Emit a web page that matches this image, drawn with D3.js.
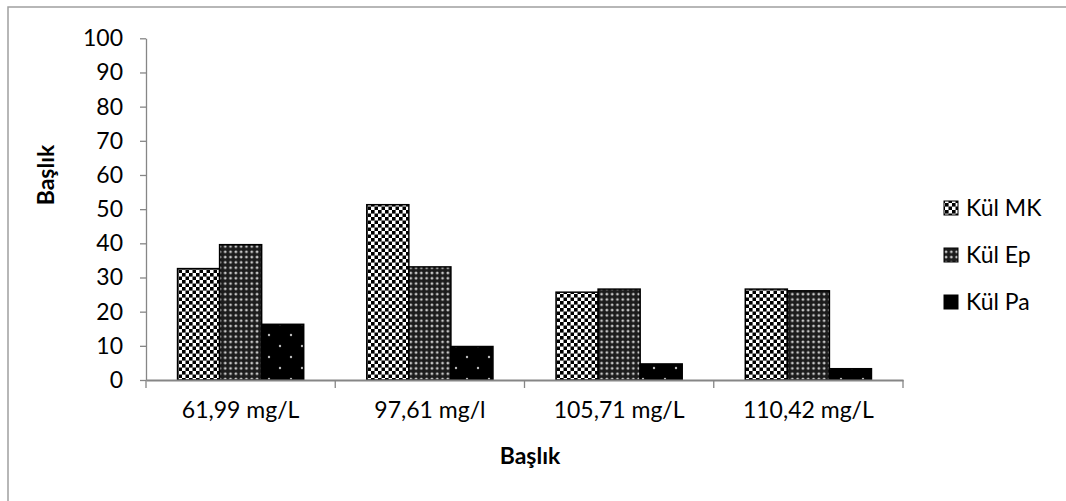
<!DOCTYPE html>
<html>
<head>
<meta charset="utf-8">
<script src="https://cdn.jsdelivr.net/npm/d3@7"></script>
<style>
  html, body { margin: 0; padding: 0; background: #fff; }
  svg { display: block; }
  text { font-family: Lato, "Open Sans", sans-serif; fill: #000; }
</style>
</head>
<body>
<svg id="chart" width="1066" height="501"></svg>
<script>
// Category labels (x axis)
const categories = ["61,99 mg/L", "97,61 mg/l", "105,71 mg/L", "110,42 mg/L"];
// Series names (legend)
const seriesNames = ["Kül MK", "Kül Ep", "Kül Pa"];
// Series values, one per category
const kulMK = [32.6, 51.3, 25.7, 26.6];
const kulEp = [39.6, 33.1, 26.6, 26.1];
const kulPa = [16.3, 9.8, 4.7, 3.3];
// Y axis tick values
const yTicks = [0, 10, 20, 30, 40, 50, 60, 70, 80, 90, 100];
const axisTitle = "Başlık";

const seriesValues = [kulMK, kulEp, kulPa];
const patternIds = ["pat-mk", "pat-ep", "pat-pa"];

const svg = d3.select("#chart");
const defs = svg.append("defs");

// Checkerboard fill
const pMK = defs.append("pattern").attr("id", "pat-mk")
  .attr("patternUnits", "userSpaceOnUse").attr("width", 7).attr("height", 7);
pMK.append("rect").attr("width", 7).attr("height", 7).attr("fill", "#fff");
pMK.append("rect").attr("x", 0).attr("y", 0).attr("width", 3.6).attr("height", 3.6).attr("fill", "#000");
pMK.append("rect").attr("x", 3.5).attr("y", 3.5).attr("width", 3.6).attr("height", 3.6).attr("fill", "#000");

// Dense dot grid on dark ground
const pEP = defs.append("pattern").attr("id", "pat-ep")
  .attr("patternUnits", "userSpaceOnUse").attr("width", 5.3).attr("height", 5.3);
pEP.append("rect").attr("width", 5.3).attr("height", 5.3).attr("fill", "#1c1c1c");
pEP.append("circle").attr("cx", 2.65).attr("cy", 2.65).attr("r", 1.4).attr("fill", "#c8c8c8");

// Sparse dots on black
const pPA = defs.append("pattern").attr("id", "pat-pa")
  .attr("patternUnits", "userSpaceOnUse").attr("width", 22).attr("height", 22);
pPA.append("rect").attr("width", 22).attr("height", 22).attr("fill", "#000");
pPA.append("circle").attr("cx", 5).attr("cy", 5).attr("r", 1.2).attr("fill", "#bbb");
pPA.append("circle").attr("cx", 16).attr("cy", 16).attr("r", 1.2).attr("fill", "#bbb");

// Chart frame
svg.append("rect")
  .attr("x", 8).attr("y", 7).attr("width", 1100).attr("height", 600)
  .attr("fill", "none").attr("stroke", "#a0a0a0").attr("stroke-width", 1.5);

const plot = { left: 146, right: 903, top: 38.3, bottom: 380 };

const x = d3.scaleBand().domain(categories).range([plot.left, plot.right]).padding(0);
const bw = x.bandwidth();
const xs = d3.scaleBand().domain(seriesNames).range([bw / 6, bw * 5 / 6]).padding(0);
const y = d3.scaleLinear().domain([0, 100]).range([plot.bottom, plot.top]);

// Bars
seriesNames.forEach((name, si) => {
  svg.append("g").selectAll("rect")
    .data(seriesValues[si])
    .join("rect")
    .attr("x", (d, i) => x(categories[i]) + xs(name))
    .attr("y", d => y(d))
    .attr("width", xs.bandwidth())
    .attr("height", d => y(0) - y(d))
    .attr("fill", `url(#${patternIds[si]})`)
    .attr("stroke", "#000")
    .attr("stroke-width", 1.5);
});

// Y axis
const yAxis = svg.append("g")
  .attr("transform", `translate(${plot.left},0)`)
  .call(d3.axisLeft(y).tickValues(yTicks).tickSize(6).tickPadding(17).tickSizeOuter(0));
yAxis.select(".domain").attr("stroke", "#868686").attr("stroke-width", 1.3);
yAxis.selectAll(".tick line").attr("stroke", "#868686").attr("stroke-width", 1.3);
yAxis.selectAll(".tick text").attr("font-size", 23).attr("font-family", "Lato, sans-serif");

// X axis
const xAxis = svg.append("g")
  .attr("transform", `translate(0,${plot.bottom})`)
  .call(d3.axisBottom(x).tickSize(0).tickPadding(22).tickSizeOuter(0));
xAxis.select(".domain").attr("stroke", "#868686").attr("stroke-width", 2);
xAxis.selectAll(".tick text").attr("font-size", 23).attr("font-family", "Lato, sans-serif");
// Category boundary ticks
const bounds = categories.map(c => x(c)).concat([plot.right]);
xAxis.selectAll(".bound").data(bounds).join("line")
  .attr("class", "bound")
  .attr("x1", d => d).attr("x2", d => d)
  .attr("y1", 0).attr("y2", 8)
  .attr("stroke", "#868686").attr("stroke-width", 1.3);

// Axis titles
svg.append("text")
  .attr("transform", `translate(54,175) rotate(-90)`)
  .attr("text-anchor", "middle")
  .attr("font-size", 23).attr("font-weight", "bold")
  .text(axisTitle);
svg.append("text")
  .attr("x", 530).attr("y", 464)
  .attr("text-anchor", "middle")
  .attr("font-size", 23).attr("font-weight", "bold")
  .text(axisTitle);

// Legend
const legendY = [208, 255, 302];
const legend = svg.append("g");
seriesNames.forEach((name, i) => {
  legend.append("rect")
    .attr("x", 944).attr("y", legendY[i] - 7)
    .attr("width", 14).attr("height", 14)
    .attr("fill", `url(#${patternIds[i]})`)
    .attr("stroke", "#000").attr("stroke-width", 1);
  legend.append("text")
    .attr("x", 966).attr("y", legendY[i])
    .attr("dy", "0.35em")
    .attr("font-size", 23)
    .text(name);
});
</script>
</body>
</html>
